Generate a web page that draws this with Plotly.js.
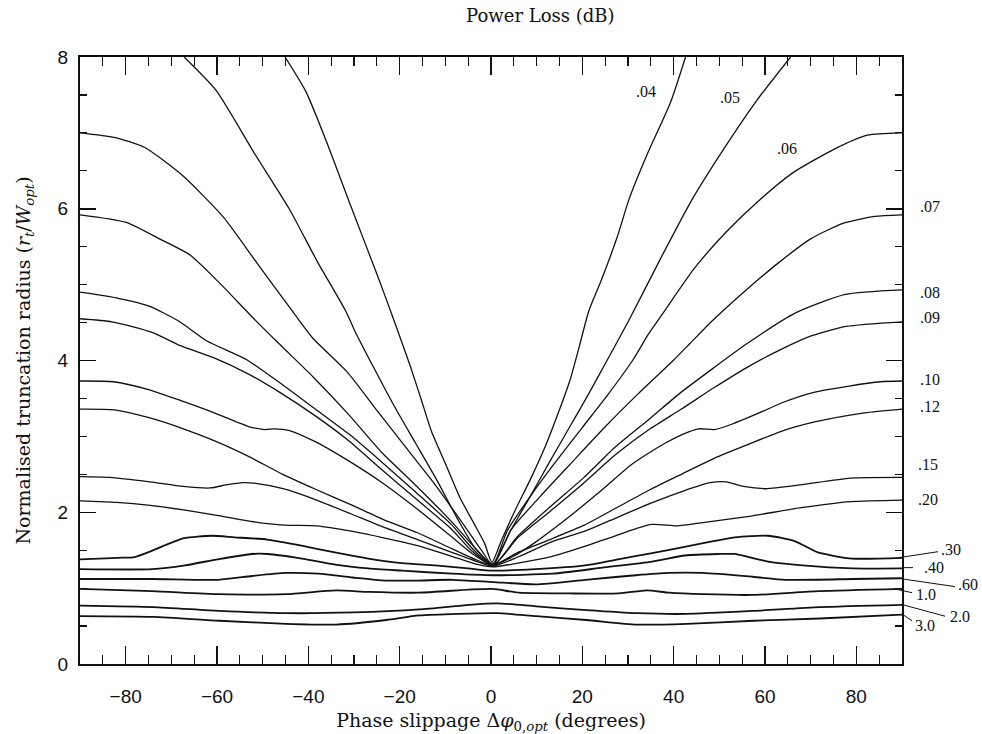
<!DOCTYPE html>
<html>
<head>
<meta charset="utf-8">
<script src="https://cdn.plot.ly/plotly-3.0.1.min.js"></script>
<style>html,body{margin:0;padding:0;background:#fff;}#chart{width:982px;height:734px;}</style>
</head>
<body>
<div id="chart"></div>
<script>
// Contour levels (Power Loss, dB)
const levels = [".04", ".05", ".06", ".07", ".08", ".09", ".10", ".12", ".15", ".20", ".30", ".40", ".60", "1.0", "2.0", "3.0"];

const x_04 = [-45.1, -40.5, -35.8, -31.1, -27.8, -24.8, -21.8, -17.7, -15.3, -13.0, -9.9, -6.7, -3.7, -1.4, 0.2, 2.3, 5.0, 8.6, 11.9, 14.8, 17.4, 19.4, 21.4, 24.1, 27.6, 30.2, 34.3, 39.3, 42.6];
const y_04 = [8.0, 7.54, 6.85, 6.10, 5.58, 5.11, 4.62, 3.93, 3.49, 3.06, 2.63, 2.18, 1.85, 1.59, 1.34, 1.63, 1.99, 2.43, 2.87, 3.32, 3.76, 4.20, 4.65, 5.05, 5.62, 6.12, 6.73, 7.40, 8.0];

const x_05 = [-67.2, -60.2, -51.8, -44.2, -38.0, -31.8, -29.5, -25.8, -21.2, -16.6, -12.0, -7.4, -3.5, 0.3, 4.4, 8.6, 12.8, 17.0, 21.2, 25.4, 30.2, 37.1, 44.2, 51.2, 58.1, 65.6];
const y_05 = [8.0, 7.56, 6.73, 6.00, 5.30, 4.65, 4.35, 3.92, 3.40, 2.92, 2.44, 1.92, 1.53, 1.32, 1.77, 2.21, 2.66, 3.10, 3.54, 4.00, 4.53, 5.34, 6.14, 6.81, 7.42, 8.0];

const x_06 = [-90, -82.5, -75.9, -67.6, -58.6, -51.2, -43.6, -39.1, -31.5, -25.6, -19.5, -12.7, -6.5, -2.0, 0.4, 3.6, 8.6, 14.1, 19.9, 25.6, 31.1, 34.5, 37.4, 44.6, 51.6, 58.7, 66.0, 75.3, 82.4, 90];
const y_06 = [7.00, 6.94, 6.81, 6.44, 5.89, 5.28, 4.66, 4.30, 3.85, 3.39, 2.92, 2.40, 1.88, 1.49, 1.30, 1.76, 2.21, 2.66, 3.11, 3.55, 4.01, 4.35, 4.60, 5.22, 5.70, 6.11, 6.47, 6.79, 6.97, 7.00];

const x_07 = [-90, -79.9, -72.5, -65.9, -59.1, -52.4, -46.4, -38.9, -31.2, -23.8, -16.4, -8.7, -2.9, 0.4, 4.4, 10.8, 17.9, 24.9, 32.2, 39.9, 43.5, 48.4, 55.7, 62.8, 69.9, 77.2, 84.0, 90];
const y_07 = [5.92, 5.82, 5.60, 5.39, 5.00, 4.58, 4.22, 3.78, 3.29, 2.78, 2.35, 1.88, 1.49, 1.30, 1.77, 2.21, 2.67, 3.12, 3.56, 4.00, 4.22, 4.52, 4.92, 5.28, 5.60, 5.81, 5.90, 5.92];

const x_08 = [-90, -81.6, -75.0, -68.4, -62.3, -53.5, -46.1, -38.7, -31.1, -23.7, -16.4, -8.7, -4.2, 0.4, 5.8, 13.1, 20.2, 27.2, 34.5, 41.6, 48.7, 56.0, 66.8, 77.6, 90];
const y_08 = [4.90, 4.82, 4.72, 4.52, 4.26, 4.01, 3.70, 3.37, 3.03, 2.65, 2.26, 1.84, 1.53, 1.30, 1.68, 2.08, 2.45, 2.86, 3.22, 3.58, 3.90, 4.22, 4.63, 4.87, 4.93];

const x_09 = [-90, -83.0, -74.2, -68.2, -60.9, -53.4, -46.0, -38.7, -31.1, -23.7, -16.3, -8.7, -4.2, 0.4, 5.8, 13.1, 20.2, 27.3, 34.6, 41.7, 48.8, 56.1, 63.3, 70.4, 77.8, 90];
const y_09 = [4.55, 4.51, 4.37, 4.20, 4.04, 3.83, 3.57, 3.28, 2.94, 2.55, 2.17, 1.78, 1.49, 1.30, 1.66, 2.02, 2.38, 2.76, 3.09, 3.36, 3.64, 3.91, 4.14, 4.33, 4.45, 4.51];

const x_10 = [-90, -82.7, -75.2, -67.9, -60.6, -53.1, -49.6, -47.4, -44.3, -38.5, -31.0, -23.6, -16.3, -8.7, -4.0, 0.4, 4.6, 9.6, 16.7, 24.0, 31.0, 38.1, 43.3, 45.5, 49.0, 52.7, 59.9, 63.6, 70.7, 78.1, 85.3, 90];
const y_10 = [3.73, 3.72, 3.62, 3.47, 3.31, 3.13, 3.09, 3.10, 3.08, 2.93, 2.67, 2.38, 2.05, 1.68, 1.45, 1.30, 1.41, 1.60, 1.92, 2.28, 2.64, 2.91, 3.06, 3.10, 3.09, 3.16, 3.34, 3.44, 3.58, 3.66, 3.72, 3.73];

const x_12 = [-90, -82.5, -75.1, -67.8, -60.5, -52.9, -45.6, -38.3, -30.7, -23.4, -16.1, -8.6, -3.5, 0.4, 5.9, 13.3, 20.4, 27.5, 34.9, 42.0, 49.2, 56.6, 63.7, 70.9, 81.8, 90];
const y_12 = [3.36, 3.35, 3.25, 3.11, 2.94, 2.73, 2.50, 2.30, 2.10, 1.90, 1.73, 1.52, 1.38, 1.30, 1.47, 1.65, 1.83, 2.06, 2.30, 2.51, 2.72, 2.90, 3.07, 3.19, 3.31, 3.36];

const x_15 = [-90, -83.5, -74.7, -67.4, -61.5, -58.0, -54.3, -51.5, -45.5, -38.2, -30.7, -23.4, -16.1, -8.6, -3.5, 0.4, 5.9, 13.3, 20.5, 27.6, 35.0, 42.1, 48.0, 51.5, 55.3, 60.3, 67.7, 78.7, 90];
const y_15 = [2.47, 2.46, 2.40, 2.34, 2.32, 2.36, 2.39, 2.38, 2.31, 2.16, 1.98, 1.80, 1.64, 1.47, 1.36, 1.29, 1.41, 1.61, 1.75, 1.93, 2.12, 2.28, 2.39, 2.40, 2.34, 2.31, 2.36, 2.45, 2.46];

const x_20 = [-90, -82.0, -74.6, -67.3, -60.0, -52.6, -45.3, -38.1, -30.6, -23.3, -16.1, -8.6, -3.5, 0.4, 5.9, 13.4, 20.5, 27.7, 35.1, 40.8, 46.0, 57.0, 67.9, 78.8, 90];
const y_20 = [2.15, 2.13, 2.09, 2.03, 1.96, 1.88, 1.83, 1.82, 1.75, 1.66, 1.56, 1.42, 1.32, 1.28, 1.33, 1.42, 1.55, 1.70, 1.84, 1.82, 1.86, 1.95, 2.06, 2.14, 2.16];

const x_30 = [-90, -81.7, -78.0, -74.3, -70.8, -67.2, -61.2, -56.2, -49.0, -41.5, -34.2, -26.9, -19.5, -12.2, -5.0, 0.3, 9.7, 20.6, 27.8, 35.3, 46.2, 53.4, 60.6, 66.5, 71.6, 79.1, 90];
const y_30 = [1.38, 1.40, 1.41, 1.49, 1.58, 1.66, 1.69, 1.67, 1.64, 1.56, 1.47, 1.39, 1.33, 1.30, 1.26, 1.23, 1.25, 1.30, 1.38, 1.46, 1.59, 1.67, 1.69, 1.62, 1.47, 1.39, 1.40];

const x_40 = [-90, -74.2, -67.0, -59.8, -52.4, -48.9, -41.4, -34.1, -26.9, -19.4, -8.5, 0.3, 13.5, 24.4, 35.3, 42.5, 49.7, 53.4, 60.7, 68.2, 79.2, 90];
const y_40 = [1.25, 1.25, 1.30, 1.38, 1.45, 1.45, 1.39, 1.31, 1.26, 1.23, 1.19, 1.17, 1.19, 1.27, 1.35, 1.43, 1.45, 1.45, 1.35, 1.30, 1.26, 1.26];

const x_60 = [-90, -74.2, -59.7, -52.3, -45.0, -37.8, -30.3, -23.1, -15.9, -8.5, 0.5, 9.8, 20.7, 31.7, 38.9, 46.3, 57.3, 64.5, 79.2, 90];
const y_60 = [1.12, 1.12, 1.11, 1.16, 1.20, 1.19, 1.14, 1.10, 1.10, 1.11, 1.08, 1.05, 1.11, 1.17, 1.20, 1.20, 1.15, 1.11, 1.12, 1.13];

const x_100 = [-90, -74.1, -59.6, -44.9, -34.0, -26.8, -15.8, -4.9, 0.4, 6.1, 17.1, 28.0, 34.1, 39.0, 46.4, 57.4, 71.8, 90];
const y_100 = [0.99, 0.96, 0.92, 0.92, 0.97, 0.95, 0.94, 0.98, 0.99, 0.94, 0.93, 0.93, 0.97, 0.94, 0.92, 0.91, 0.96, 0.99];

const x_200 = [-90, -74.0, -59.5, -44.8, -30.1, -15.7, -4.8, 1.3, 9.9, 20.9, 31.9, 42.8, 57.5, 72.0, 90];
const y_200 = [0.77, 0.75, 0.70, 0.67, 0.68, 0.72, 0.78, 0.80, 0.76, 0.71, 0.67, 0.66, 0.70, 0.75, 0.78];

const x_300 = [-90, -74.0, -59.5, -44.8, -33.8, -22.9, -15.7, 1.4, 9.9, 20.9, 31.9, 42.9, 57.5, 72.0, 90];
const y_300 = [0.63, 0.62, 0.57, 0.53, 0.52, 0.58, 0.64, 0.67, 0.63, 0.58, 0.52, 0.53, 0.57, 0.60, 0.65];

// Contour label positions
const innerLabels = [".04", ".05", ".06"];
const innerLabelX = [34.0, 52.4, 64.8];
const innerLabelY = [7.55, 7.47, 6.80];

const edgeLabels = [".07", ".08", ".09", ".10", ".12", ".15", ".20", ".30", ".40", ".60", "1.0", "2.0", "3.0"];
const edgeLabelY = [6.03, 4.90, 4.57, 3.75, 3.39, 2.63, 2.17, 1.51, 1.27, 1.05, 0.92, 0.63, 0.51];

const allX = [x_04, x_05, x_06, x_07, x_08, x_09, x_10, x_12, x_15, x_20, x_30, x_40, x_60, x_100, x_200, x_300];
const allY = [y_04, y_05, y_06, y_07, y_08, y_09, y_10, y_12, y_15, y_20, y_30, y_40, y_60, y_100, y_200, y_300];

const traces = levels.map((lv, i) => ({
  type: 'scatter', mode: 'lines', name: lv,
  x: allX[i], y: allY[i],
  line: {color: '#111', width: i < 10 ? 1.3 : 1.8, shape: 'spline', smoothing: 0.6},
  hoverinfo: 'name', showlegend: false
}));

// plot-area geometry used for label placement (paper coords)
const edgeLabelPx = [930, 930, 930, 930, 930, 928, 928, 951, 934, 968, 926, 960, 925];
const L = 80, W = 822;
const serif = '"DejaVu Serif", "Liberation Serif", serif';
const serif2 = '"Liberation Serif", "DejaVu Serif", serif';

const annotations = [];
innerLabels.forEach((t, i) => annotations.push({
  x: innerLabelX[i], y: innerLabelY[i], xref: 'x', yref: 'y', text: t, showarrow: false,
  font: {family: serif2, size: 16, color: '#111'}
}));
edgeLabels.forEach((t, i) => annotations.push({
  x: (edgeLabelPx[i] - L) / W, y: edgeLabelY[i], xref: 'paper', yref: 'y', text: t, showarrow: false,
  xanchor: 'center', font: {family: serif2, size: 16, color: '#111'}
}));

// leader lines for the crowded lower labels
const leaderX0 = [898, 903, 903, 898, 903, 903];
const leaderX1 = [938, 913, 955, 912, 945, 912];
const leaderY0 = [1.40, 1.27, 1.12, 0.98, 0.78, 0.65];
const leaderY1 = [1.48, 1.27, 1.02, 0.94, 0.63, 0.57];
const shapes = leaderX0.map((v, i) => ({
  type: 'line', xref: 'paper', yref: 'y',
  x0: (v - L) / W, x1: (leaderX1[i] - L) / W, y0: leaderY0[i], y1: leaderY1[i],
  line: {color: '#111', width: 1}
}));

const layout = {
  width: 982, height: 734,
  margin: {l: 80, r: 80, t: 57, b: 70},
  paper_bgcolor: '#fff', plot_bgcolor: '#fff',
  showlegend: false,
  title: {text: 'Power Loss (dB)', x: 0.56, xref: 'paper', xanchor: 'center', y: 0.979, yref: 'container', yanchor: 'middle',
          font: {family: serif, size: 18, color: '#111'}},
  xaxis: {
    range: [-90, 90], tickmode: 'linear', tick0: 0, dtick: 20,
    ticks: 'inside', ticklen: 18, tickwidth: 1.5, tickcolor: '#111',
    minor: {dtick: 5, tick0: 0, ticks: 'inside', ticklen: 9, tickwidth: 1.2, tickcolor: '#111'},
    showline: true, linewidth: 2, linecolor: '#111', mirror: 'allticks',
    showgrid: false, zeroline: false,
    ticklabelstandoff: 14,
    tickfont: {family: '"Liberation Sans", Arial, sans-serif', size: 19, color: '#111'},
    title: {text: 'Phase slippage Δ<i>φ</i><sub>0,<i>opt</i></sub> (degrees)', standoff: 8,
            font: {family: serif, size: 19, color: '#111'}}
  },
  yaxis: {
    range: [0, 8], tickmode: 'linear', tick0: 0, dtick: 2,
    ticks: 'inside', ticklen: 16, tickwidth: 1.5, tickcolor: '#111',
    minor: {dtick: 0.5, tick0: 0, ticks: 'inside', ticklen: 7, tickwidth: 1.2, tickcolor: '#111'},
    showline: true, linewidth: 2, linecolor: '#111', mirror: 'allticks',
    showgrid: false, zeroline: false,
    ticklabelstandoff: 6,
    tickfont: {family: '"Liberation Sans", Arial, sans-serif', size: 19, color: '#111'},
    title: {text: 'Normalised truncation radius (<i>r<sub>t</sub></i>/<i>W<sub>opt</sub></i>)', standoff: 22,
            font: {family: serif, size: 19, color: '#111'}}
  },
  annotations: annotations,
  shapes: shapes
};

Plotly.newPlot('chart', traces, layout, {displayModeBar: false, staticPlot: true});
</script>
</body>
</html>
